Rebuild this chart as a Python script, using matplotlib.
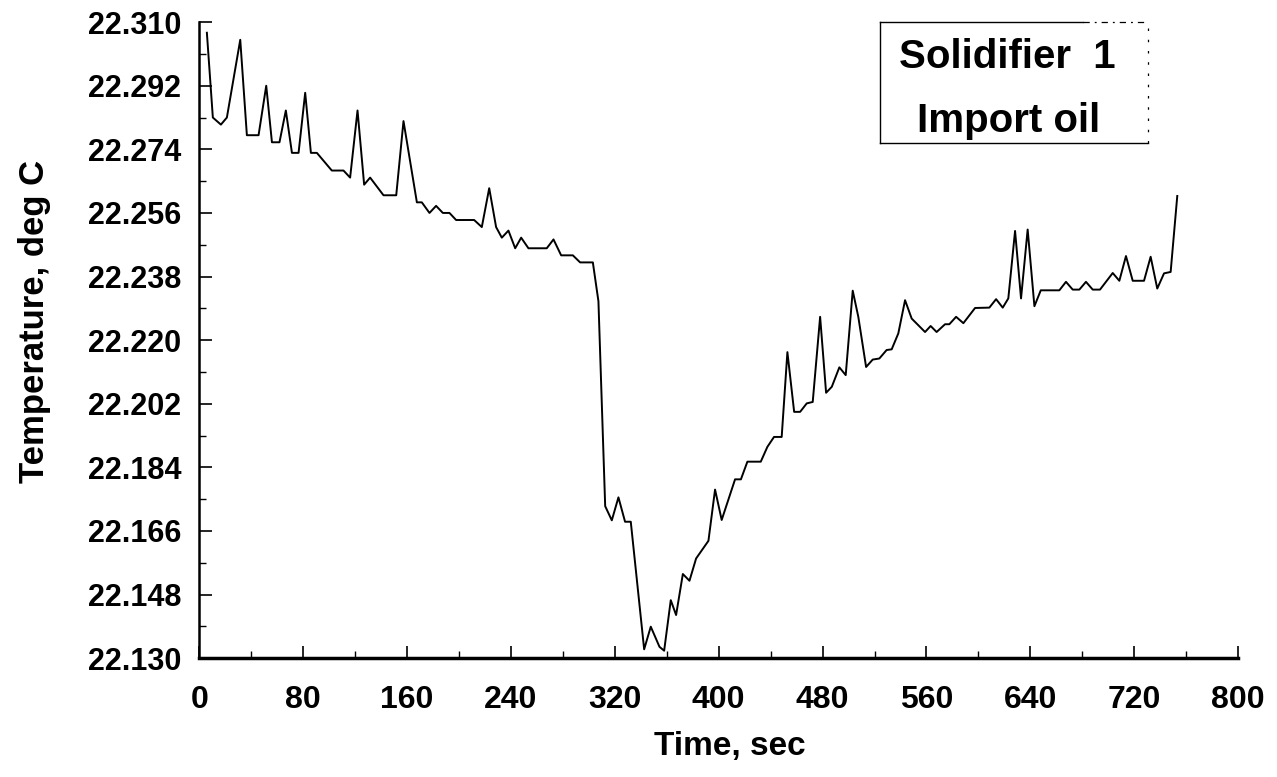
import matplotlib
matplotlib.use('Agg')
import matplotlib.pyplot as plt
from matplotlib.ticker import MultipleLocator, FixedLocator

plt.rcParams['font.family'] = ['Liberation Sans', 'DejaVu Sans']
plt.rcParams['font.weight'] = 'bold'

# solidifier temperature log, time in s / temperature in deg C
time_s = [5.9, 10.5, 16.7, 21.3, 31.6, 36.7, 45.7, 51.6, 56.0, 61.8,
          66.7, 71.4, 76.5, 81.6, 86.0, 90.6, 102.1, 111.1, 116.2, 121.9,
          127.0, 131.6, 141.9, 151.7, 157.3, 167.6, 171.4, 177.3, 182.4, 187.6,
          192.7, 197.8, 211.7, 217.6, 223.3, 228.6, 233.0, 238.1, 243.3, 247.9,
          253.5, 267.6, 272.8, 278.7, 287.7, 293.3, 303.1, 307.4, 312.6, 317.7,
          322.8, 327.9, 332.3, 342.6, 347.7, 354.4, 358.0, 363.1, 367.2, 372.4,
          377.5, 382.6, 392.1, 397.2, 402.3, 412.6, 417.1, 422.1, 432.4, 437.5,
          442.6, 448.5, 452.9, 458.1, 462.7, 467.8, 472.4, 478.1, 482.7, 487.1,
          492.9, 497.8, 503.2, 507.5, 513.5, 518.6, 523.7, 529.3, 533.2, 538.3,
          543.5, 548.6, 558.9, 563.2, 567.8, 574.3, 577.6, 582.8, 588.4, 597.4,
          608.4, 613.6, 618.7, 623.0, 628.2, 632.8, 637.9, 643.1, 648.0, 662.3,
          667.4, 672.6, 677.7, 682.8, 688.0, 693.6, 703.4, 708.5, 713.6, 718.8,
          727.5, 732.6, 737.7, 742.9, 748.0, 753.1]
temp_c = [22.307, 22.283, 22.281, 22.283, 22.305, 22.278, 22.278, 22.292, 22.276, 22.276,
          22.285, 22.273, 22.273, 22.290, 22.273, 22.273, 22.268, 22.268, 22.266, 22.285,
          22.264, 22.266, 22.261, 22.261, 22.282, 22.259, 22.259, 22.256, 22.258, 22.256,
          22.256, 22.254, 22.254, 22.252, 22.263, 22.252, 22.249, 22.251, 22.246, 22.249,
          22.246, 22.246, 22.2485, 22.244, 22.244, 22.242, 22.242, 22.231, 22.173, 22.169,
          22.1755, 22.1686, 22.1686, 22.1325, 22.1389, 22.1332, 22.1321, 22.1464, 22.1422, 22.1538,
          22.1519, 22.1582, 22.1632, 22.1777, 22.1691, 22.1806, 22.1806, 22.1856, 22.1856, 22.1898,
          22.1926, 22.1926, 22.2166, 22.1997, 22.1997, 22.2021, 22.2025, 22.2266, 22.2051, 22.2068,
          22.2123, 22.2101, 22.2340, 22.2266, 22.2124, 22.2145, 22.2148, 22.2172, 22.2174, 22.2219,
          22.2313, 22.2261, 22.2223, 22.2240, 22.2223, 22.2245, 22.2245, 22.2266, 22.2248, 22.2291,
          22.2292, 22.2316, 22.2292, 22.2318, 22.2509, 22.2318, 22.2513, 22.2296, 22.2341, 22.2341,
          22.2365, 22.2343, 22.2343, 22.2365, 22.2343, 22.2343, 22.2390, 22.2368, 22.2438, 22.2368,
          22.2368, 22.2436, 22.2346, 22.2389, 22.2393, 22.2608]

y_ticks = [22.130, 22.148, 22.166, 22.184, 22.202, 22.220,
           22.238, 22.256, 22.274, 22.292, 22.310]
y_minor = [22.139, 22.157, 22.175, 22.193, 22.211,
           22.229, 22.247, 22.265, 22.283, 22.301]

legend_lines = ['Solidifier  1', 'Import oil']

fig = plt.figure(figsize=(12.77, 7.77), dpi=100)
ax = fig.add_axes([0.156, 0.153, 0.8136, 0.8185])

ax.plot(time_s, temp_c, color='black', linewidth=1.4)

ax.set_xlim(0, 800)
ax.set_ylim(22.130, 22.310)

ax.xaxis.set_major_locator(MultipleLocator(80))
ax.xaxis.set_minor_locator(MultipleLocator(40))
ax.yaxis.set_major_locator(FixedLocator(y_ticks))
ax.yaxis.set_minor_locator(FixedLocator(y_minor))
ax.set_yticklabels([f'{v:.3f}' for v in y_ticks])

for s in ['top', 'right']:
    ax.spines[s].set_visible(False)
ax.spines['bottom'].set_linewidth(2.5)
ax.spines['left'].set_linewidth(1.8)

ax.tick_params(axis='both', which='major', direction='in', length=9, width=1.2)
ax.tick_params(axis='both', which='minor', direction='in', length=5, width=1.0)
ax.tick_params(axis='y', which='major', labelsize=22, pad=13)
ax.tick_params(axis='x', which='major', labelsize=23, pad=19)
for lab in ax.get_xticklabels() + ax.get_yticklabels():
    lab.set_fontweight('bold')

ax.set_xlabel('Time, sec', fontsize=24, fontweight='bold')
ax.xaxis.set_label_coords(0.511, -0.114)
ax.set_ylabel('Temperature, deg C', fontsize=25, fontweight='bold')
ax.yaxis.set_label_coords(-0.143, 0.53)

# boxed annotation in the upper right
bx0, bx1, by0, by1 = 0.655, 0.913, 0.810, 1.0
kw = dict(transform=ax.transAxes, color='black', clip_on=False)
ax.plot([bx0, bx0], [by0, by1], linewidth=1.0, **kw)
ax.plot([bx0, bx1], [by0, by0], linewidth=1.0, **kw)
ax.plot([bx0, 0.851], [by1, by1], linewidth=1.0, **kw)
ax.plot([0.851, bx1], [by1, by1], linewidth=0.9, linestyle=(0, (5, 4, 1.5, 4)), **kw)
ax.plot([bx1, bx1], [by0, by1], linewidth=0.9, linestyle=(0, (2, 7)), **kw)
ax.text(0.778, 0.928, legend_lines[0], transform=ax.transAxes, ha='center',
        va='baseline', fontsize=29, fontweight='bold')
ax.text(0.779, 0.827, legend_lines[1], transform=ax.transAxes, ha='center',
        va='baseline', fontsize=29, fontweight='bold')

fig.savefig('out.png', dpi=100)
